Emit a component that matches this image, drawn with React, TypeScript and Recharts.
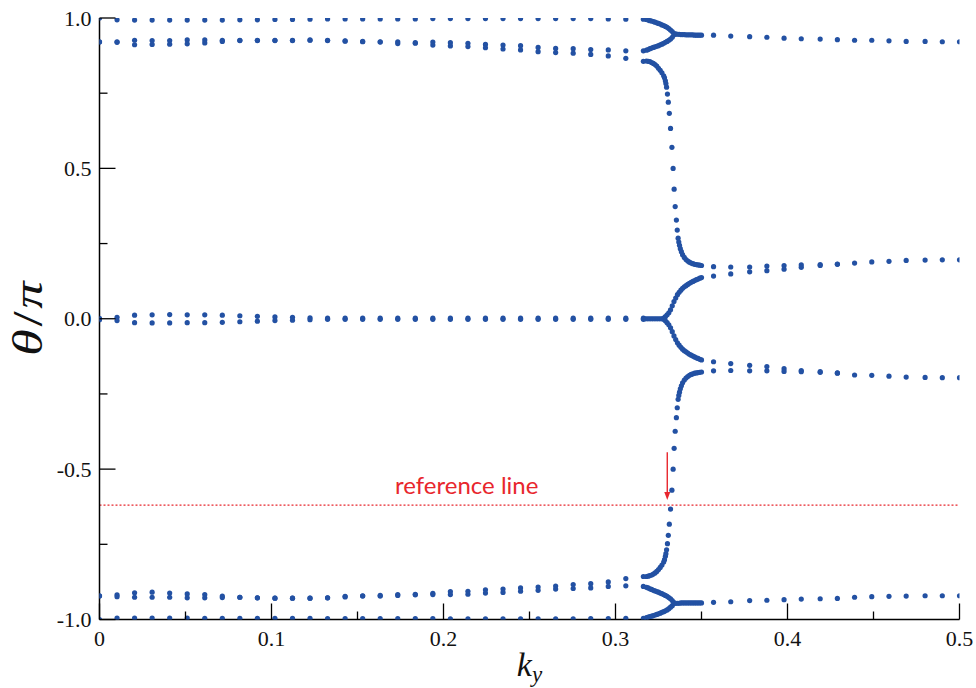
import React from 'react';
import { ScatterChart, Scatter, XAxis, YAxis, ReferenceLine } from 'recharts';

const BLUE = '#2351a3';
const RED = '#e8262d';
const SERIF = 'Liberation Serif';

// regular k_y grid before the crossing region
const kyGrid = [0, 0.0102, 0.0204, 0.0306, 0.0408, 0.051, 0.0612, 0.0714, 0.0816, 0.0918, 0.102, 0.1122, 0.1224, 0.1326, 0.1428, 0.153, 0.1632, 0.1734, 0.1836, 0.1938, 0.204, 0.2142, 0.2244, 0.2346, 0.2448, 0.255, 0.2652, 0.2754, 0.2856, 0.2958, 0.306, 0.3162];
const topRow = [1.0, 0.994, 0.993, 0.993, 0.993, 0.993, 0.993, 0.993, 0.994, 0.994, 0.995, 0.995, 0.996, 0.997, 0.997, 0.997, 0.997, 0.997, 0.997, 0.998, 0.998, 0.998, 0.998, 0.998, 0.998, 0.998, 0.998, 0.998, 0.998, 0.997, 0.996, 0.996];
const upperOuter = [0.921, 0.921, 0.926, 0.925, 0.925, 0.927, 0.927, 0.926, 0.926, 0.926, 0.926, 0.926, 0.927, 0.926, 0.924, 0.922, 0.921, 0.921, 0.918, 0.920, 0.918, 0.916, 0.912, 0.910, 0.908, 0.902, 0.899, 0.898, 0.895, 0.894, 0.891, 0.891];
const upperInner = [0.920, 0.919, 0.911, 0.912, 0.913, 0.914, 0.917, 0.922, 0.925, 0.925, 0.925, 0.925, 0.926, 0.925, 0.923, 0.921, 0.920, 0.915, 0.916, 0.910, 0.907, 0.905, 0.901, 0.897, 0.894, 0.888, 0.885, 0.883, 0.879, 0.874, 0.866, 0.856];
const zeroUpper = [0.001, 0.005, 0.012, 0.013, 0.014, 0.013, 0.013, 0.012, 0.010, 0.008, 0.006, 0.005, 0.003, 0.002, 0.002, 0.002, 0.002, 0.002, 0.002, 0.002, 0.002, 0.002, 0.002, 0.002, 0.002, 0.002, 0.002, 0.002, 0.002, 0.002, 0.002, 0.002];
const zeroLower = [-0.003, -0.006, -0.013, -0.014, -0.014, -0.013, -0.013, -0.012, -0.010, -0.008, -0.006, -0.005, -0.003, -0.002, -0.002, -0.002, -0.002, -0.002, -0.002, -0.002, -0.002, -0.002, -0.002, -0.002, -0.002, -0.002, -0.002, -0.002, -0.002, -0.002, -0.002, -0.002];
const lowerInner = [-0.921, -0.918, -0.911, -0.909, -0.912, -0.915, -0.917, -0.922, -0.926, -0.928, -0.929, -0.929, -0.929, -0.928, -0.923, -0.921, -0.920, -0.917, -0.916, -0.913, -0.907, -0.906, -0.901, -0.899, -0.895, -0.892, -0.889, -0.884, -0.881, -0.875, -0.864, -0.857];
const lowerOuter = [-0.922, -0.924, -0.926, -0.926, -0.926, -0.928, -0.928, -0.927, -0.926, -0.928, -0.929, -0.929, -0.929, -0.928, -0.925, -0.922, -0.922, -0.920, -0.918, -0.917, -0.917, -0.916, -0.912, -0.910, -0.906, -0.903, -0.899, -0.897, -0.895, -0.890, -0.888, -0.890];
const bottomRow = [-1.0, -0.995, -0.995, -0.995, -0.995, -0.995, -0.996, -0.996, -0.996, -0.996, -0.996, -0.996, -0.996, -0.997, -0.997, -0.997, -0.997, -0.997, -0.997, -0.997, -0.998, -0.998, -0.998, -0.998, -0.998, -0.998, -0.998, -0.998, -0.997, -0.997, -0.996, -0.996];

// outer forks near +-0.95
const forkX = [0.318, 0.319, 0.32, 0.321, 0.322, 0.323, 0.324, 0.325, 0.326, 0.327, 0.328, 0.329, 0.33, 0.331, 0.332, 0.333, 0.334];
const topCurve = [0.995, 0.993, 0.991, 0.990, 0.988, 0.986, 0.984, 0.982, 0.980, 0.977, 0.975, 0.972, 0.969, 0.965, 0.960, 0.955, 0.948];
const outerCurve = [0.893, 0.895, 0.898, 0.900, 0.902, 0.904, 0.906, 0.908, 0.911, 0.913, 0.916, 0.919, 0.922, 0.926, 0.930, 0.936, 0.944];
const bottomCurve = [-0.994, -0.992, -0.990, -0.989, -0.987, -0.985, -0.983, -0.981, -0.979, -0.976, -0.974, -0.971, -0.968, -0.964, -0.959, -0.954, -0.947];
const lowerOuterCurve = [-0.893, -0.895, -0.898, -0.900, -0.903, -0.905, -0.907, -0.909, -0.912, -0.914, -0.917, -0.920, -0.923, -0.927, -0.931, -0.937, -0.944];

const mergedX = [0.335, 0.336, 0.337, 0.338, 0.339, 0.34, 0.341, 0.342, 0.343, 0.344, 0.345, 0.346, 0.347, 0.348, 0.349, 0.35];
const mergedUpper = [0.947, 0.946, 0.946, 0.945, 0.945, 0.945, 0.944, 0.944, 0.944, 0.944, 0.944, 0.943, 0.943, 0.943, 0.943, 0.943];
const mergedLower = [-0.946, -0.946, -0.946, -0.945, -0.945, -0.945, -0.945, -0.945, -0.945, -0.945, -0.945, -0.945, -0.945, -0.945, -0.945, -0.945];

// sparse grid after the crossing
const tailX = [0.357, 0.367, 0.378, 0.388, 0.398, 0.408, 0.419, 0.429, 0.439, 0.449, 0.459, 0.469, 0.48, 0.49, 0.5];
const tailUpper = [0.943, 0.940, 0.938, 0.936, 0.933, 0.931, 0.930, 0.928, 0.926, 0.926, 0.924, 0.922, 0.922, 0.921, 0.921];
const tailLower = [-0.943, -0.941, -0.937, -0.936, -0.934, -0.932, -0.931, -0.930, -0.926, -0.924, -0.923, -0.922, -0.921, -0.921, -0.921];
const midUpper = [0.173, 0.172, 0.172, 0.175, 0.177, 0.179, 0.180, 0.182, 0.185, 0.189, 0.191, 0.194, 0.195, 0.196, 0.196];
const midLower = [-0.173, -0.172, -0.173, -0.173, -0.175, -0.176, -0.178, -0.181, -0.187, -0.188, -0.191, -0.194, -0.195, -0.196, -0.196];
const innerUpper = [0.142, 0.149, 0.156, 0.160, 0.165, 0.171, 0.177, 0.181];
const innerLower = [-0.143, -0.149, -0.155, -0.159, -0.166, -0.172, -0.176, -0.180];

// the branch that crosses from +-0.86 to +-0.18
const steepX = [0.318, 0.319, 0.32, 0.321, 0.322, 0.323, 0.324, 0.325, 0.326, 0.327, 0.328, 0.3285, 0.329, 0.3293, 0.3297, 0.3302, 0.3307, 0.3313, 0.332, 0.3328, 0.3335, 0.3341, 0.3347, 0.3354, 0.3359, 0.3364, 0.3368, 0.3372, 0.3377, 0.3383, 0.339, 0.34, 0.341, 0.342, 0.343, 0.344, 0.345, 0.346, 0.347, 0.348, 0.349, 0.35];
const steepUpper = [0.857, 0.856, 0.855, 0.852, 0.849, 0.845, 0.840, 0.833, 0.826, 0.818, 0.808, 0.801, 0.791, 0.782, 0.770, 0.747, 0.720, 0.683, 0.633, 0.570, 0.500, 0.431, 0.373, 0.328, 0.295, 0.268, 0.255, 0.244, 0.233, 0.223, 0.213, 0.204, 0.197, 0.192, 0.188, 0.185, 0.183, 0.181, 0.180, 0.179, 0.178, 0.177];
const steepLower = [-0.857, -0.856, -0.854, -0.852, -0.849, -0.845, -0.840, -0.834, -0.827, -0.819, -0.809, -0.801, -0.790, -0.781, -0.768, -0.748, -0.720, -0.683, -0.633, -0.570, -0.500, -0.431, -0.374, -0.329, -0.296, -0.268, -0.255, -0.244, -0.233, -0.223, -0.213, -0.204, -0.197, -0.192, -0.188, -0.185, -0.183, -0.181, -0.180, -0.179, -0.178, -0.177];

// zero branch splitting
const zeroForkX = [0.317, 0.318, 0.319, 0.32, 0.321, 0.322, 0.323, 0.324, 0.325, 0.326, 0.327];
const zeroFork = [0, 0, 0, 0, 0, 0, 0, 0, 0, 0, 0];
const splitX = [0.328, 0.329, 0.33, 0.331, 0.332, 0.333, 0.334, 0.335, 0.336, 0.337, 0.338, 0.339, 0.34, 0.341, 0.342, 0.343, 0.344, 0.345, 0.346, 0.347, 0.348, 0.349, 0.35];
const splitUpper = [0.002, 0.007, 0.013, 0.020, 0.030, 0.043, 0.057, 0.069, 0.080, 0.088, 0.095, 0.101, 0.106, 0.110, 0.114, 0.118, 0.121, 0.124, 0.127, 0.130, 0.132, 0.135, 0.137];
const splitLower = [-0.002, -0.007, -0.013, -0.020, -0.030, -0.043, -0.057, -0.069, -0.080, -0.088, -0.095, -0.101, -0.106, -0.110, -0.114, -0.118, -0.121, -0.124, -0.127, -0.130, -0.132, -0.135, -0.137];

const xTicks = [0, 0.05, 0.1, 0.15, 0.2, 0.25, 0.3, 0.35, 0.4, 0.45, 0.5];
const yTicks = [-1, -0.75, -0.5, -0.25, 0, 0.25, 0.5, 0.75, 1];
const refValue = -0.62;

const branches: [number[], number[]][] = [
  [kyGrid, topRow], [kyGrid, upperOuter], [kyGrid, upperInner], [kyGrid, zeroUpper], [kyGrid, zeroLower],
  [kyGrid, lowerInner], [kyGrid, lowerOuter], [kyGrid, bottomRow],
  [forkX, topCurve], [forkX, outerCurve], [forkX, bottomCurve], [forkX, lowerOuterCurve],
  [mergedX, mergedUpper], [mergedX, mergedLower],
  [tailX, tailUpper], [tailX, tailLower], [tailX, midUpper], [tailX, midLower], [tailX, innerUpper], [tailX, innerLower],
  [steepX, steepUpper], [steepX, steepLower],
  [zeroForkX, zeroFork], [splitX, splitUpper], [splitX, splitLower],
];

const pts = (xs: number[], ys: number[]) => ys.map((y, i) => ({ x: xs[i], y }));

const isMajor = (v: number, step: number) => Math.abs(v / step - Math.round(v / step)) < 1e-6;

const Dot = (p: any) => <circle cx={p.cx} cy={p.cy} r={2.6} fill={BLUE} />;

const serifStyle = { fontFamily: SERIF };

const BottomTick = ({ x, y, payload }: any) => {
  const major = isMajor(payload.value, 0.1);
  return (
    <g>
      <line x1={x} x2={x} y1={y} y2={y - (major ? 16 : 8)} stroke="#000" strokeWidth={1.3} />
      {major && (
        <text x={x} y={y + 26} textAnchor="middle" style={serifStyle} fontSize={22} fill="#111">
          {payload.value === 0 ? '0' : payload.value.toFixed(1)}
        </text>
      )}
    </g>
  );
};

const TopTick = ({ x, y, payload }: any) => {
  const major = isMajor(payload.value, 0.1);
  return <line x1={x} x2={x} y1={y} y2={y + (major ? 16 : 8)} stroke="#000" strokeWidth={1.3} />;
};

const LeftTick = ({ x, y, payload }: any) => {
  const major = isMajor(payload.value, 0.5);
  return (
    <g>
      <line x1={x} x2={x + (major ? 16 : 8)} y1={y} y2={y} stroke="#000" strokeWidth={1.3} />
      {major && (
        <text x={x - 8} y={y + 7.5} textAnchor="end" style={serifStyle} fontSize={22} fill="#111">
          {payload.value.toFixed(1)}
        </text>
      )}
    </g>
  );
};

const RightTick = ({ x, y, payload }: any) => {
  const major = isMajor(payload.value, 0.5);
  return <line x1={x} x2={x - (major ? 16 : 8)} y1={y} y2={y} stroke="#000" strokeWidth={1.3} />;
};

const Arrow = (p: any) => {
  const x = p.x1;
  const top = Math.min(p.y1, p.y2);
  const tip = Math.max(p.y1, p.y2);
  return (
    <g>
      <line x1={x} x2={x} y1={top} y2={tip - 6} stroke={RED} strokeWidth={1.4} />
      <polygon points={`${x - 3},${tip - 8} ${x + 3},${tip - 8} ${x},${tip}`} fill={RED} />
    </g>
  );
};

const axisLine = { stroke: '#000', strokeWidth: 1.5 };

export default function App() {
  return (
    <div style={{ position: 'absolute', left: 0, top: 0, background: '#fff' }}>
      <ScatterChart width={976} height={688} margin={{ top: 18, right: 16.5, bottom: 0, left: 0 }}>
        <XAxis
          type="number"
          dataKey="x"
          domain={[0, 0.5]}
          ticks={xTicks}
          interval={0}
          allowDataOverflow
          height={68.5}
          tickSize={0}
          tickMargin={0}
          tickLine={false}
          axisLine={axisLine}
          tick={<BottomTick />}
          label={{
            content: ({ viewBox }: any) => (
              <text x={viewBox.x + viewBox.width / 2} y={viewBox.y + 56} textAnchor="middle" style={serifStyle} fontSize={34} fontStyle="italic" fill="#111">
                k<tspan fontSize={23} dy={6}>y</tspan>
              </text>
            ),
          }}
        />
        <XAxis xAxisId="top" orientation="top" type="number" dataKey="x" domain={[0, 0.5]} ticks={xTicks} interval={0} allowDataOverflow height={0} tickSize={0} tickMargin={0} tickLine={false} axisLine={axisLine} tick={<TopTick />} />
        <YAxis
          type="number"
          dataKey="y"
          domain={[-1, 1]}
          ticks={yTicks}
          interval={0}
          allowDataOverflow
          width={99.5}
          tickSize={0}
          tickMargin={0}
          tickLine={false}
          axisLine={axisLine}
          tick={<LeftTick />}
          label={{
            content: ({ viewBox }: any) => {
              const cx = 29;
              const cy = viewBox.y + viewBox.height / 2;
              return (
                <text x={0} y={0} transform={`translate(${cx} ${cy}) rotate(-90) scale(1.3 1)`} textAnchor="middle" dy={13} style={serifStyle} fontSize={42} fill="#111">
                  <tspan fontStyle="italic">θ</tspan>
                  <tspan dx={2}>/</tspan>
                  <tspan dx={2} fontStyle="italic">π</tspan>
                </text>
              );
            },
          }}
        />
        <YAxis yAxisId="right" orientation="right" type="number" dataKey="y" domain={[-1, 1]} ticks={yTicks} interval={0} allowDataOverflow width={0} tickSize={0} tickMargin={0} tickLine={false} axisLine={axisLine} tick={<RightTick />} />

        <ReferenceLine
          y={refValue}
          stroke={RED}
          strokeWidth={1.2}
          strokeDasharray="2 2"
          label={{
            content: ({ viewBox }: any) => (
              <text x={viewBox.x + viewBox.width * 0.427} y={viewBox.y - 11} textAnchor="middle" style={{ fontFamily: 'Lato' }} fontSize={24} fill={RED}>
                reference line
              </text>
            ),
          }}
        />
        <ReferenceLine segment={[{ x: 0.3301, y: -0.444 }, { x: 0.3301, y: -0.603 }]} shape={Arrow} />

        {branches.map(([xs, ys], i) => (
          <Scatter key={i} data={pts(xs, ys)} shape={Dot} isAnimationActive={false} />
        ))}
      </ScatterChart>
    </div>
  );
}
